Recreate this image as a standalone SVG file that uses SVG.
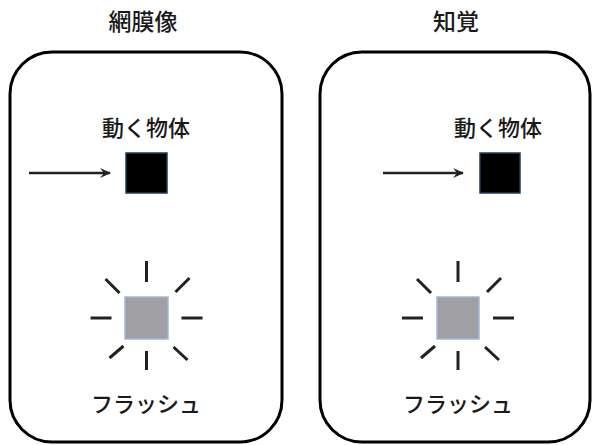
<svg xmlns="http://www.w3.org/2000/svg" width="592" height="445" viewBox="0 0 592 445">
<defs>
<style>
.panel{fill:#fff;stroke:#000;stroke-width:3}
.t{font-family:"Noto Sans CJK JP","Noto Sans CJK SC",sans-serif;fill:#1a1a1a;text-anchor:middle}
.title{font-size:23px;font-weight:500}
.lbl{font-size:22px;font-weight:500}
.obj{fill:#000;stroke:#1f3b5c;stroke-width:1.5}
.flash{fill:#a0a0a4;stroke:#9db8d8;stroke-width:1.5}
.ray{stroke:#222;stroke-width:3;stroke-linecap:butt}
.arr{stroke:#222;stroke-width:2.5;fill:none}
</style>
<marker id="ah" viewBox="0 0 10 10" refX="9" refY="5" markerWidth="4.4" markerHeight="4.4" orient="auto" markerUnits="strokeWidth">
<path d="M0,0.5 L10,5 L0,9.5 L3.5,5 Z" fill="#222"/>
</marker>
<g id="rays">
<line class="ray" x1="0" y1="-57" x2="0" y2="-36"/>
<line class="ray" x1="0" y1="33" x2="0" y2="52"/>
<line class="ray" x1="-56" y1="0" x2="-35" y2="0"/>
<line class="ray" x1="35" y1="0" x2="56" y2="0"/>
<line class="ray" x1="-41" y1="-39" x2="-27" y2="-25"/>
<line class="ray" x1="43" y1="-40" x2="29" y2="-26"/>
<line class="ray" x1="-37" y1="40" x2="-23" y2="28"/>
<line class="ray" x1="27" y1="29" x2="41" y2="42"/>
</g>
</defs>
<rect width="592" height="445" fill="#fff"/>

<g id="retina">
<text class="t title" x="143" y="30">網膜像</text>
<rect class="panel" x="10" y="52" width="272" height="390" rx="42" ry="42"/>
<text class="t lbl" x="146" y="136">動く物体</text>
<rect class="obj" x="126" y="153" width="41" height="40"/>
<rect class="flash" x="125" y="297" width="43" height="42"/>
<use href="#rays" transform="translate(146.5,318)"/>
<text class="t lbl" x="146" y="412">フラッシュ</text>
</g>

<g id="percept">
<text class="t title" x="456" y="30">知覚</text>
<rect class="panel" x="320" y="52" width="270" height="390" rx="42" ry="42"/>
<text class="t lbl" x="498" y="136">動く物体</text>
<rect class="obj" x="480" y="153" width="40" height="40"/>
<rect class="flash" x="437" y="297" width="42" height="42"/>
<use href="#rays" transform="translate(458,318)"/>
<text class="t lbl" x="458" y="412">フラッシュ</text>
</g>

<g id="connectors">
<line class="arr" x1="29" y1="173" x2="110" y2="173" marker-end="url(#ah)"/>
<line class="arr" x1="383" y1="173" x2="463" y2="173" marker-end="url(#ah)"/>
</g>
</svg>
